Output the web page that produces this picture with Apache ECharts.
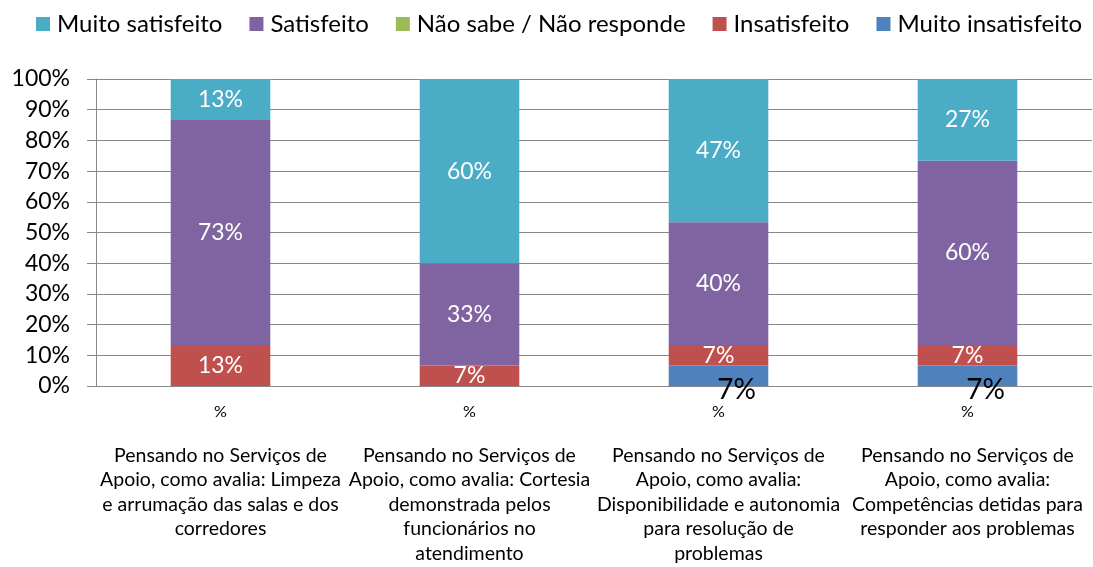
<!DOCTYPE html>
<html>
<head>
<meta charset="utf-8">
<script src="https://cdn.jsdelivr.net/npm/echarts@6/dist/echarts.min.js"></script>
<style>html,body{margin:0;padding:0;background:#fff}#c{width:1093px;height:567px}</style>
</head>
<body>
<div id="c"></div>
<script>
const innerLabels = ['%', '%', '%', '%'];
const categories = [
  'Pensando no Serviços de\nApoio, como avalia: Limpeza\ne arrumação das salas e dos\ncorredores',
  'Pensando no Serviços de\nApoio, como avalia: Cortesia\ndemonstrada pelos\nfuncionários no\natendimento',
  'Pensando no Serviços de\nApoio, como avalia:\nDisponibilidade e autonomia\npara resolução de\nproblemas',
  'Pensando no Serviços de\nApoio, como avalia:\nCompetências detidas para\nresponder aos problemas'
];
const muitoSatisfeito = [13.33, 60, 46.67, 26.67];
const satisfeito = [73.33, 33.33, 40, 60];
const naoSabe = [0, 0, 0, 0];
const insatisfeito = [13.33, 6.67, 6.67, 6.67];
const muitoInsatisfeito = [0, 0, 6.67, 6.67];
const yTicks = [0, 10, 20, 30, 40, 50, 60, 70, 80, 90, 100];

const FONT = 'Lato';
const chart = echarts.init(document.getElementById('c'));
const fmt = p => p.value > 0 ? Math.round(p.value) + '%' : '';
function mk(name, data, color, label) {
  return {
    name, type: 'bar', stack: 'a', data, barWidth: '40%', xAxisIndex: 0,
    itemStyle: { color },
    label: Object.assign({ show: true, position: 'inside', formatter: fmt, color: '#fff', fontSize: 23, fontFamily: FONT }, label || {})
  };
}
chart.setOption({
  animation: false,
  textStyle: { fontFamily: FONT },
  legend: {
    top: 12, left: 36, right: 0, padding: 0,
    itemWidth: 14, itemHeight: 14, itemGap: 27,
    icon: 'rect',
    textStyle: { fontSize: 24, color: '#000', fontFamily: FONT, padding: [0, 0, 0, 2] },
    data: ['Muito satisfeito', 'Satisfeito', 'Não sabe / Não responde', 'Insatisfeito', 'Muito insatisfeito']
  },
  grid: { left: 96, right: 1, top: 79, bottom: 181, containLabel: false, outerBoundsMode: 'none' },
  xAxis: [
    {
      type: 'category', data: innerLabels, position: 'bottom',
      axisLine: { show: true, lineStyle: { color: '#888' } },
      axisTick: { show: false },
      axisLabel: { color: '#000', fontSize: 16, margin: 18, fontFamily: FONT }
    },
    {
      type: 'category', data: categories, position: 'bottom', offset: 49,
      axisLine: { show: false }, axisTick: { show: false },
      axisLabel: { color: '#000', fontSize: 19.5, lineHeight: 24.5, interval: 0, fontFamily: FONT, verticalAlign: 'top' }
    }
  ],
  yAxis: {
    type: 'value', min: 0, max: 100, interval: 10,
    axisLine: { show: true, lineStyle: { color: '#888' } },
    axisTick: { show: true, length: 9, lineStyle: { color: '#888' } },
    splitLine: { lineStyle: { color: '#888', width: 1 } },
    axisLabel: { color: '#000', fontSize: 23, margin: 26, fontFamily: FONT,
      formatter: v => yTicks.includes(v) ? v + '%' : '' }
  },
  series: [
    mk('Muito insatisfeito', muitoInsatisfeito, '#4F81BD', { color: '#000', fontSize: 28, offset: [18, 14] }),
    mk('Insatisfeito', insatisfeito, '#C0504D'),
    mk('Não sabe / Não responde', naoSabe, '#9BBB59'),
    mk('Satisfeito', satisfeito, '#8064A2'),
    mk('Muito satisfeito', muitoSatisfeito, '#4BACC6')
  ]
});
</script>
</body>
</html>
